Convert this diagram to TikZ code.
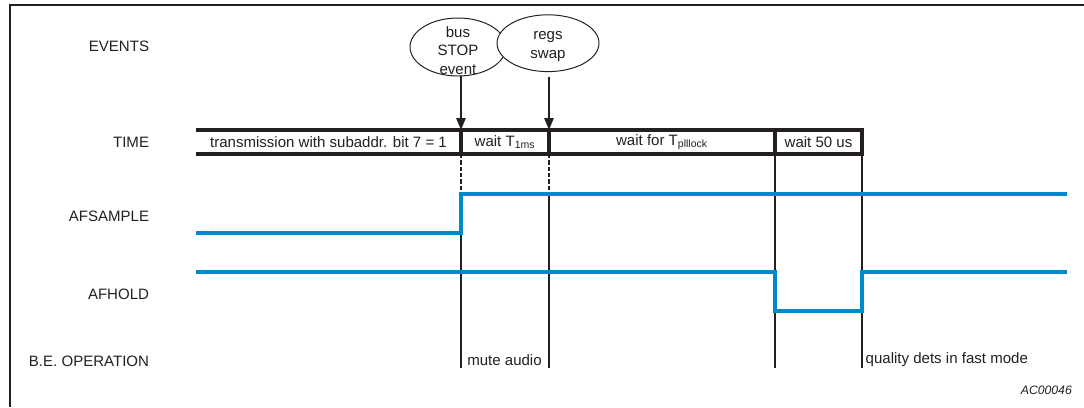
\documentclass[tikz,border=0pt]{standalone}
\usepackage{fontspec}
\setmainfont{Liberation Sans}
\usetikzlibrary{arrows.meta,shapes.geometric,calc}
\definecolor{sigblue}{RGB}{0,136,204}
\definecolor{ink}{RGB}{35,31,32}

\begin{document}
\begin{tikzpicture}[
        every node/.style={font=\fontsize{10.7}{13.2}\selectfont, text=ink},
        rowlabel/.style={anchor=east},
        opnote/.style={anchor=west, inner sep=1pt},
        evt/.style={ellipse, draw=ink, line width=0.7pt, fill=white, inner sep=0pt},
        barline/.style={draw=ink, line width=2.2pt},
        tick/.style={draw=ink, line width=1.6pt},
        guide/.style={draw=ink, line width=1.6pt, dash pattern=on 3pt off 1.5pt},
        signal/.style={draw=sigblue, line width=2.3pt},
        trig/.style={draw=ink, line width=1.6pt, -{Triangle[length=0.3cm,width=0.23cm]}}
    ]
    \useasboundingbox (0,0) rectangle (27.1,-10.175);
    \draw[ink, line width=2pt] (27.1,-0.125) -- (0.25,-0.125) -- (0.25,-10.175);

    \node[rowlabel] (lEvents) at (3.85,-1.16) {EVENTS};
    \node[rowlabel] (lTime) at (3.85,-3.57) {TIME};
    \node[rowlabel] (lSample) at (3.85,-5.4) {AFSAMPLE};
    \node[rowlabel] (lHold) at (3.85,-7.35) {AFHOLD};
    \node[rowlabel] (lOper) at (3.85,-9.03) {B.E. OPERATION};

    \coordinate (a0) at (4.9,-3.25);    \coordinate (b0) at (4.9,-3.85);
    \coordinate (a1) at (11.525,-3.25); \coordinate (b1) at (11.525,-3.85);
    \coordinate (a2) at (13.725,-3.25); \coordinate (b2) at (13.725,-3.85);
    \coordinate (a3) at (19.375,-3.25); \coordinate (b3) at (19.375,-3.85);
    \coordinate (a4) at (21.55,-3.25);  \coordinate (b4) at (21.55,-3.85);
    \coordinate (s1) at (11.525,-4.85); \coordinate (s2) at (13.725,-4.85);
    \coordinate (f1) at (11.525,-9.2);  \coordinate (f2) at (13.725,-9.2);
    \coordinate (f3) at (19.375,-9.2);  \coordinate (f4) at (21.55,-9.2);

    \draw[barline] (a0) -- (a4) -- (b4) -- (b0);
    \draw[barline] (a1) -- (b1) (a2) -- (b2) (a3) -- (b3);
    \node (cTrans) at ($(a0)!.5!(b1)$) {transmission with subaddr. bit 7 = 1};
    \node (cWait) at ($(a1)!.5!(b2)$) {wait T\textsubscript{1ms}};
    \node (cPll) at ($(a2)!.5!(b3)$) {wait for T\textsubscript{plllock}};
    \node (cFifty) at ($(a3)!.5!(b4)$) {wait 50 us};

    \draw[guide] (b1) -- (s1) (b2) -- (s2);
    \draw[tick] (s1) -- (f1) (s2) -- (f2) (b3) -- (f3) (b4) -- (f4);

    \node[evt, minimum width=2.4cm, minimum height=1.45cm] (busStop) at (11.45,-1.175) {};
    \node[align=center] (busText) at ($(busStop)+(0,-0.08)$) {bus\\STOP\\event};
    \node[evt, minimum width=2.55cm, minimum height=1.42cm] (regSwap) at (13.7,-1.08) {};
    \node[align=center] (regText) at ($(regSwap)+(0,-0.08)$) {regs\\swap};
    \draw[trig] (busStop.south -| a1) -- (a1);
    \draw[trig, shorten <=0.13cm] (regSwap.south -| a2) -- (a2);

    \coordinate (sampLo) at (4.9,-5.825);
    \coordinate (sampEnd) at (26.675,-4.85);
    \draw[signal] (sampLo) -- (sampLo -| s1) -- (s1) -- (sampEnd);
    \coordinate (holdHi) at (4.9,-6.8);
    \coordinate (holdLo) at (19.375,-7.775);
    \coordinate (holdEnd) at (26.675,-6.8);
    \draw[signal] (holdHi) -- (holdHi -| a3) -- (holdLo) -- (holdLo -| a4) -- (holdEnd -| a4) -- (holdEnd);

    \node[opnote] (nMute) at (11.64,-9.0) {mute audio};
    \node[opnote] (nFast) at (21.6,-9.0) {quality dets in fast mode};
    \node[anchor=east, font=\fontsize{8.7}{10}\selectfont\itshape] (figId) at (26.92,-9.75) {AC00046};
\end{tikzpicture}
\end{document}
